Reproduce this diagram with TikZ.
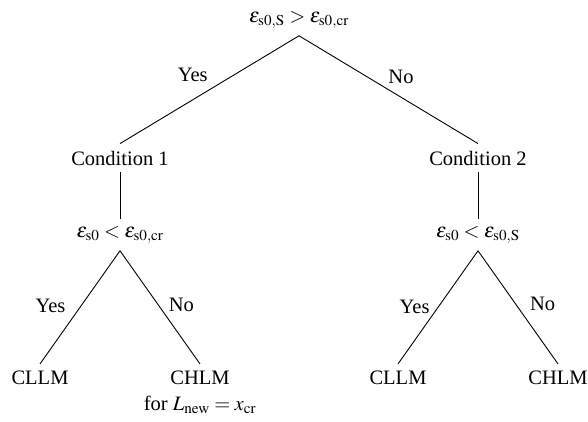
\documentclass[tikz,border=0pt]{standalone}
\usepackage{mathptmx}
\usepackage{fontspec}
\setmainfont{Liberation Serif}
\begin{document}
\begin{tikzpicture}[
  every node/.style = {font = \fontsize{20.5}{24}\selectfont, inner sep = 7pt},
  answer/.style = {inner sep = 2pt},
  edge from parent/.style = {draw, line width = 0.9pt},
  parent anchor = south, child anchor = north,
  level 1/.style = {level distance = 138pt, sibling distance = 358pt},
  level 2/.style = {level distance = 77pt},
  level 3/.style = {level distance = 143pt, sibling distance = 160pt}
  ]
  \useasboundingbox (0,0) rectangle (588pt,-421pt);
  \node (root) at (299pt,-20pt) {$\varepsilon_{\mathrm{s0,S}} > \varepsilon_{\mathrm{s0,cr}}$}
  child {node (cond1) {Condition 1}
          child {node (test1) {$\varepsilon_{\mathrm{s0}} < \varepsilon_{\mathrm{s0,cr}}$}
                  child {node (cllm1) {CLLM}
                          edge from parent node[answer, left = 13pt, pos = 0.49] {Yes}}
                  child {node (chlm1) [label = {[label distance = -3pt]below:for $L_{\mathrm{new}} = x_{\mathrm{cr}}$}] {CHLM}
                          edge from parent node[answer, right = 8pt, pos = 0.48] {No}}
                }
          edge from parent node[answer, above left = 3pt, pos = 0.48] {Yes}
        }
  child {node (cond2) {Condition 2}
          child {node (test2) {$\varepsilon_{\mathrm{s0}} < \varepsilon_{\mathrm{s0,S}}$}
                  child {node (cllm2) {CLLM}
                          edge from parent node[answer, left = 6pt, pos = 0.5] {Yes}}
                  child {node (chlm2) {CHLM}
                          edge from parent node[answer, right = 12pt, pos = 0.47] {No}}
                }
          edge from parent node[answer, right = 19pt, pos = 0.38] {No}
        };
\end{tikzpicture}
\end{document}
